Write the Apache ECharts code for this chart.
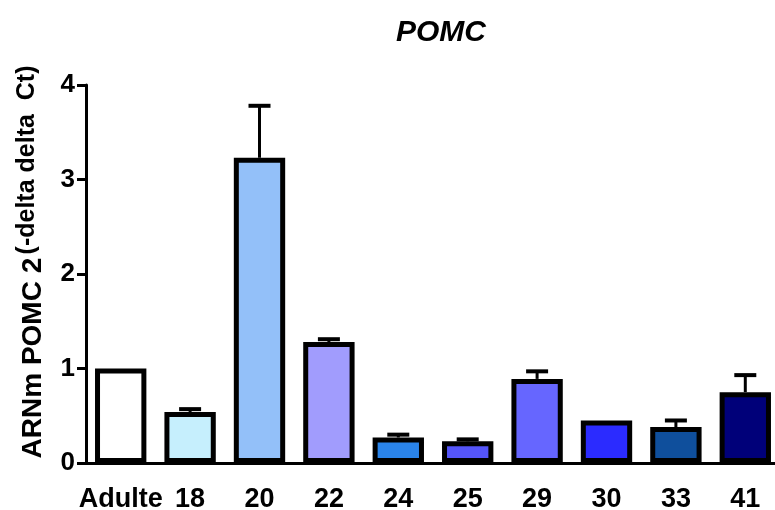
<!DOCTYPE html>
<html><head><meta charset="utf-8">
<script src="https://cdn.jsdelivr.net/npm/echarts@6/dist/echarts.min.js"></script>
<style>html,body{margin:0;padding:0;background:#fff}#c{width:775px;height:510px}</style>
</head><body><div id="c"></div>
<script>
const categories = ['Adulte','18','20','22','24','25','29','30','33','41'];
const values = [1.0, 0.54, 3.23, 1.28, 0.27, 0.23, 0.89, 0.45, 0.38, 0.75];
const errors = [0, 0.03, 0.55, 0.03, 0.03, 0.02, 0.08, 0, 0.07, 0.18];
const colors = ['#FFFFFF','#C6EFFD','#93C0F9','#A19CFD','#2A84EA','#5555F9','#6666FF','#2B2BFF','#0F4F9C','#000079'];
const yTicks = [0, 1, 2, 3, 4];

const F = 'Liberation Sans, Arial, sans-serif';
const chart = echarts.init(document.getElementById('c'));
chart.setOption({
  animation: false,
  title: { text: 'POMC', left: 436, top: 13, textAlign: 'center',
    textStyle: { fontFamily: F, fontSize: 30, fontWeight: 'bold', fontStyle: 'italic', color: '#000' } },
  grid: { left: 86, top: 85, bottom: 47, right: -5, containLabel: false, outerBoundsMode: 'none' },
  xAxis: {
    type: 'category', data: categories,
    axisLine: { lineStyle: { color: '#000', width: 3 } },
    axisTick: { alignWithLabel: true, length: 11, lineStyle: { color: '#000', width: 3 } },
    axisLabel: { interval: 0, color: '#000', fontFamily: F, fontWeight: 'bold', fontSize: 27, margin: 23 }
  },
  yAxis: {
    type: 'value', min: yTicks[0], max: yTicks[yTicks.length-1], interval: 1,
    splitLine: { show: false },
    axisLine: { show: true, lineStyle: { color: '#000', width: 3 } },
    axisTick: { show: true, length: 9, lineStyle: { color: '#000', width: 3 } },
    axisLabel: { color: '#000', fontFamily: F, fontWeight: 'bold', fontSize: 26, margin: 11 },
    name: '{a|ARNm POMC 2} {b|(-delta delta  Ct)}',
    nameLocation: 'middle', nameGap: 34,
    nameTextStyle: { rich: {
      a: { fontFamily: F, fontSize: 28, fontWeight: 'bold', color: '#000', padding: [0,0,0,24] },
      b: { fontFamily: F, fontSize: 25, fontWeight: 'bold', color: '#000', verticalAlign: 'bottom', padding: [0,0,12,0] }
    } }
  },
  series: [
    { type: 'bar', barWidth: '74%',
      data: values.map((v, i) => ({ value: v, itemStyle: { color: colors[i] } })),
      itemStyle: { borderColor: '#000', borderWidth: 5 }, z: 3 },
    { type: 'custom', z: 2,
      data: values.map((v, i) => [i, v, errors[i]]),
      renderItem: function (params, api) {
        const e = api.value(2);
        if (!e) return null;
        const p0 = api.coord([api.value(0), api.value(1)]);
        const p1 = api.coord([api.value(0), api.value(1) + e]);
        const hw = 11;
        const st = { stroke: '#000', lineWidth: 3 };
        return { type: 'group', children: [
          { type: 'line', shape: { x1: p0[0], y1: p0[1], x2: p1[0], y2: p1[1] }, style: st },
          { type: 'line', shape: { x1: p1[0] - hw, y1: p1[1], x2: p1[0] + hw, y2: p1[1] }, style: { stroke: '#000', lineWidth: 4 } }
        ] };
      } }
  ]
});
</script></body></html>
